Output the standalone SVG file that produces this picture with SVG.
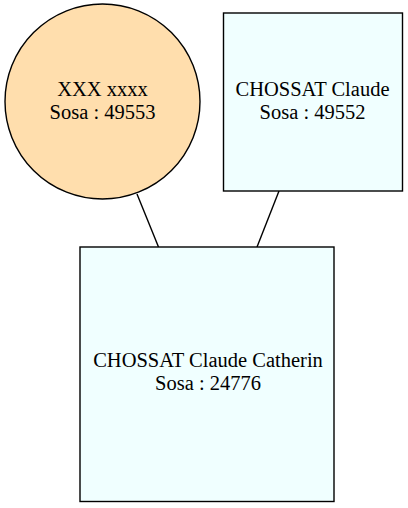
<svg xmlns="http://www.w3.org/2000/svg" width="408" height="508" viewBox="0 0 408 508">
<style>
  .node { stroke: #000; stroke-width: 1.4; }
  .box { fill: #f0ffff; }
  .circ { fill: #ffdead; }
  text { font-family: "Liberation Serif", "Times New Roman", serif; font-size: 20.5px; fill: #000; text-anchor: middle; }
  .edge { stroke: #000; stroke-width: 1.4; fill: none; }
</style>
<rect width="408" height="508" fill="#fff"/>
<g id="edges">
  <line class="edge" x1="137" y1="194" x2="158.5" y2="247"/>
  <line class="edge" x1="279" y1="191" x2="257" y2="247"/>
</g>
<g id="n49553">
  <circle class="node circ" cx="102.5" cy="101.5" r="97.5"/>
  <text x="102.5" y="96">XXX xxxx</text>
  <text x="102.5" y="119">Sosa : 49553</text>
</g>
<g id="n49552">
  <rect class="node box" x="223.5" y="13" width="179" height="178"/>
  <text x="312.5" y="96">CHOSSAT Claude</text>
  <text x="312.5" y="119">Sosa : 49552</text>
</g>
<g id="n24776">
  <rect class="node box" x="80" y="247" width="254" height="254.5"/>
  <text x="208" y="367">CHOSSAT Claude Catherin</text>
  <text x="208" y="390">Sosa : 24776</text>
</g>
</svg>
